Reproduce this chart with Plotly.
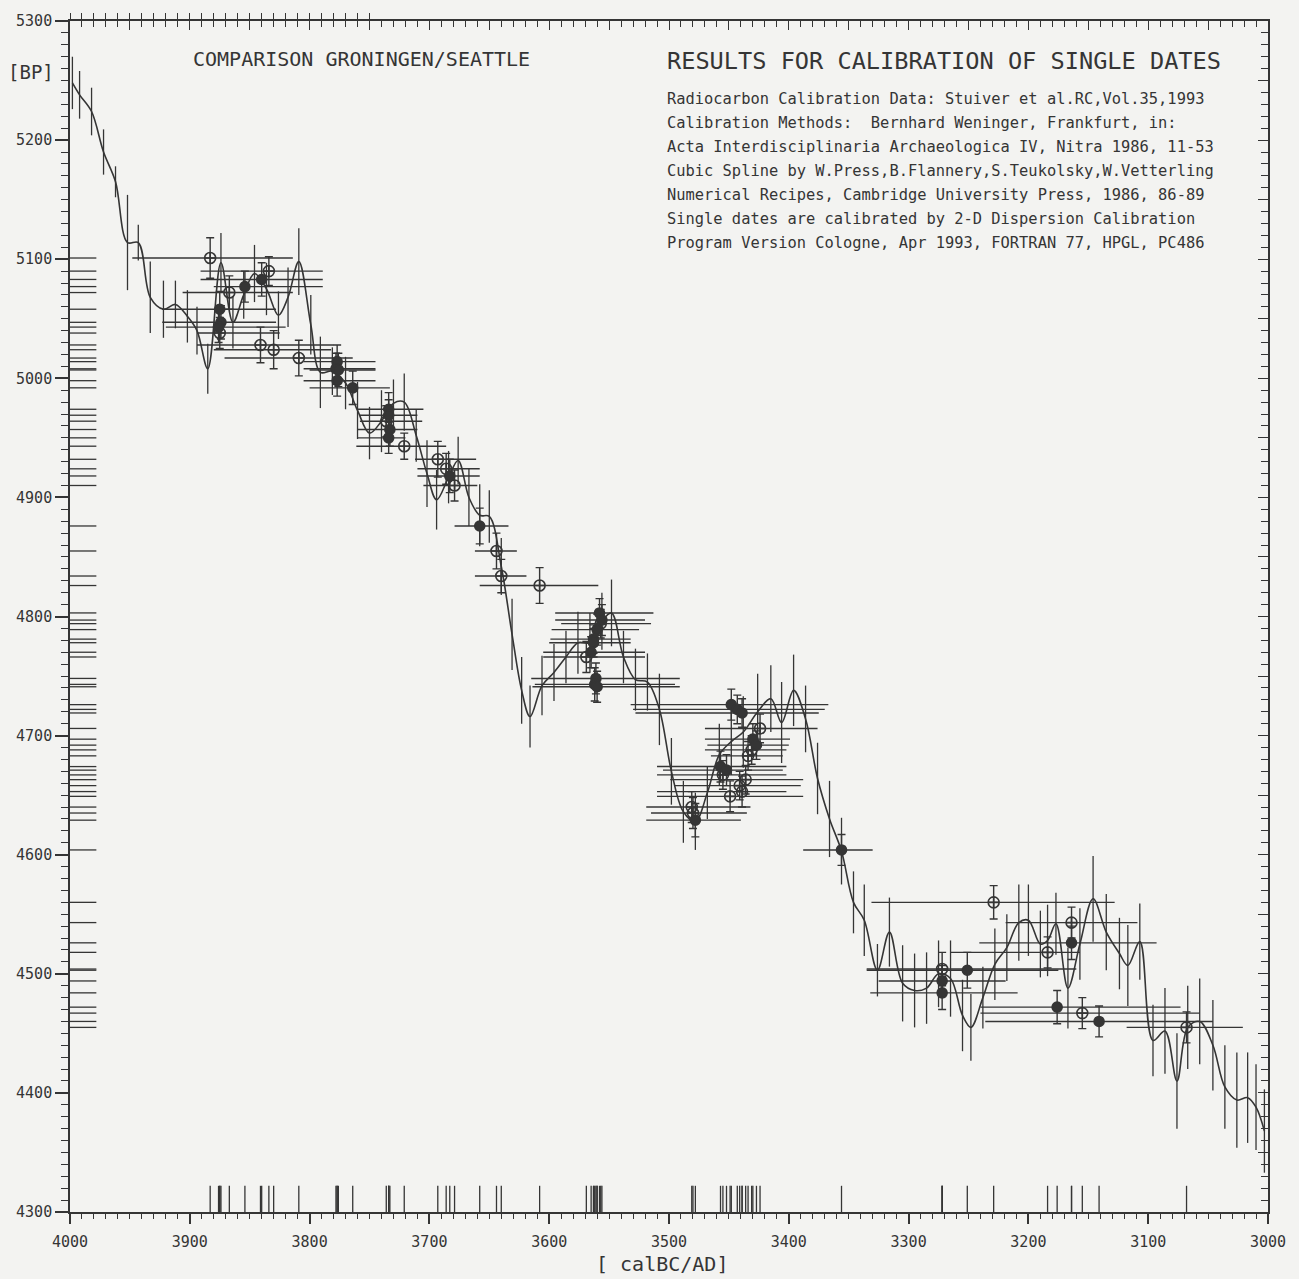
import plotly.graph_objects as go

# ---------------- calibration curve (cal BC, BP, +/- error) ----------------
curve_year = [3998, 3992, 3982, 3972, 3962, 3952, 3943, 3933, 3922, 3912,
              3902, 3894, 3885, 3874, 3864, 3855, 3846, 3836, 3826, 3818,
              3809, 3799, 3791, 3781, 3770, 3760, 3750, 3740, 3730, 3721,
              3711, 3702, 3694, 3684, 3676, 3667, 3658, 3650, 3640, 3631,
              3623, 3616, 3606, 3596, 3586, 3576, 3566, 3556, 3548, 3538,
              3528, 3518, 3508, 3498, 3488, 3478, 3468, 3458, 3448, 3438,
              3426, 3415, 3406, 3396, 3386, 3376, 3366, 3356, 3346, 3337,
              3326, 3316, 3305, 3295, 3285, 3275, 3265, 3255, 3248, 3238,
              3228, 3218, 3208, 3200, 3190, 3184, 3177, 3167, 3157, 3146,
              3135, 3124, 3117, 3107, 3096, 3086, 3076, 3067, 3057, 3046,
              3036, 3026, 3017, 3010, 3003]
curve_bp = [5248, 5238, 5224, 5190, 5165, 5114, 5114, 5068, 5058, 5062,
            5052, 5040, 5008, 5097, 5047, 5070, 5088, 5075, 5053, 5068,
            5098, 5045, 5005, 5006, 4996, 4973, 4954, 4964, 4979, 4980,
            4952, 4920, 4898, 4917, 4931, 4900, 4885, 4884, 4842, 4785,
            4738, 4716, 4742, 4753, 4766, 4778, 4778, 4796, 4803, 4766,
            4747, 4745, 4722, 4670, 4636, 4628, 4652, 4684, 4695, 4703,
            4720, 4731, 4711, 4738, 4714, 4664, 4630, 4603, 4560, 4545,
            4503, 4535, 4492, 4486, 4488, 4500, 4496, 4465, 4455, 4480,
            4508, 4522, 4543, 4545, 4525, 4528, 4542, 4488, 4525, 4563,
            4535, 4517, 4507, 4527, 4444, 4452, 4410, 4455, 4460, 4440,
            4405, 4394, 4396, 4388, 4368]
curve_err = [22, 20, 20, 19, 13, 40, 15, 30, 24, 20,
             22, 20, 21, 25, 22, 20, 24, 22, 20, 25,
             28, 25, 30, 20, 22, 24, 22, 26, 20, 24,
             22, 28, 25, 22, 20, 24, 26, 22, 24, 30,
             28, 26, 25, 24, 22, 26, 25, 24, 28, 22,
             26, 24, 30, 28, 26, 24, 22, 26, 28, 30,
             32, 28, 34, 30, 28, 30, 32, 28, 26, 30,
             22, 29, 32, 31, 30, 28, 32, 30, 28, 26,
             30, 28, 32, 30, 28, 30, 26, 34, 30, 36,
             32, 30, 34, 32, 30, 36, 40, 35, 36, 38,
             35, 40, 38, 36, 35]

# ---------------- single dates ----------------
date_cal = [3883, 3834, 3840, 3854, 3867, 3875, 3874, 3876, 3875, 3841,
            3830, 3809, 3777, 3778, 3776, 3777, 3764, 3734, 3734, 3736,
            3733, 3734, 3721, 3693, 3686, 3683, 3679, 3658, 3644, 3640,
            3608, 3558, 3556, 3557, 3560, 3563, 3563, 3565, 3569, 3561,
            3562, 3560, 3448, 3443, 3439, 3424, 3430, 3427, 3431, 3434,
            3457, 3452, 3455, 3436, 3441, 3439, 3449, 3481, 3480, 3478,
            3356, 3229, 3164, 3164, 3184, 3272, 3272, 3272, 3251, 3176,
            3155, 3141, 3068]
date_bp = [5101, 5090, 5083, 5077, 5072, 5058, 5047, 5043, 5038, 5028,
           5024, 5017, 5014, 5008, 5007, 4998, 4992, 4974, 4969, 4964,
           4957, 4950, 4943, 4932, 4924, 4918, 4910, 4876, 4855, 4834,
           4826, 4803, 4797, 4794, 4789, 4781, 4778, 4770, 4766, 4748,
           4743, 4741, 4726, 4722, 4719, 4706, 4697, 4692, 4688, 4683,
           4674, 4671, 4667, 4663, 4658, 4653, 4649, 4640, 4635, 4629,
           4604, 4560, 4543, 4526, 4518, 4504, 4494, 4484, 4503, 4472,
           4467, 4460, 4455]
date_sd = [17, 12, 14, 13, 14, 15, 14, 13, 13, 15,
           16, 15, 14, 13, 14, 13, 14, 14, 13, 13,
           14, 13, 11, 15, 13, 14, 13, 15, 15, 14,
           15, 12, 13, 12, 13, 12, 12, 13, 13, 13,
           14, 13, 13, 12, 12, 12, 13, 12, 12, 12,
           13, 13, 12, 12, 12, 13, 13, 13, 13, 14,
           13, 14, 13, 14, 13, 14, 13, 14, 15, 14,
           13, 13, 13]
date_cal_old = [3948, 3891, 3891, 3880, 3906, 3923, 3923, 3920, 3894, 3894,
                3880, 3871, 3805, 3805, 3800, 3805, 3800, 3760, 3758, 3758,
                3760, 3760, 3761, 3712, 3710, 3710, 3705, 3679, 3662, 3662,
                3658, 3595, 3595, 3590, 3598, 3599, 3600, 3605, 3605, 3615,
                3612, 3614, 3532, 3530, 3528, 3470, 3470, 3468, 3470, 3465,
                3510, 3505, 3510, 3499, 3495, 3510, 3510, 3519, 3515, 3519,
                3388, 3331, 3219, 3241, 3265, 3335, 3325, 3332, 3335, 3240,
                3240, 3236, 3118]
date_cal_young = [3814, 3789, 3789, 3789, 3814, 3828, 3828, 3820, 3825, 3780,
                  3782, 3764, 3745, 3745, 3745, 3745, 3733, 3705, 3710, 3706,
                  3710, 3720, 3686, 3661, 3658, 3658, 3660, 3634, 3627, 3619,
                  3559, 3513, 3520, 3515, 3525, 3532, 3532, 3520, 3520, 3491,
                  3495, 3491, 3367, 3370, 3375, 3376, 3399, 3400, 3402, 3405,
                  3402, 3405, 3402, 3388, 3390, 3402, 3388, 3432, 3435, 3440,
                  3330, 3128, 3109, 3093, 3157, 3160, 3219, 3209, 3175, 3073,
                  3057, 3046, 3021]
date_kind = ["o", "o", "f", "f", "o", "f", "f", "f", "o", "o",
             "o", "o", "f", "f", "f", "f", "f", "f", "f", "o",
             "f", "f", "o", "o", "o", "f", "o", "f", "o", "o",
             "o", "f", "f", "o", "f", "f", "f", "f", "o", "f",
             "f", "f", "f", "f", "f", "o", "f", "f", "o", "o",
             "f", "f", "o", "o", "o", "o", "o", "o", "o", "f",
             "f", "o", "o", "f", "o", "o", "f", "f", "f", "f",
             "o", "f", "o"]

assert len(curve_year) == len(curve_bp) == len(curve_err)
n = len(date_cal)
assert all(len(a) == n for a in (date_bp, date_sd, date_cal_old, date_cal_young, date_kind))

# ---------------- texts ----------------
title_left = "COMPARISON GRONINGEN/SEATTLE"
title_right = "RESULTS FOR CALIBRATION OF SINGLE DATES"
info_lines = [
    "Radiocarbon Calibration Data: Stuiver et al.RC,Vol.35,1993",
    "Calibration Methods:  Bernhard Weninger, Frankfurt, in:",
    "Acta Interdisciplinaria Archaeologica IV, Nitra 1986, 11-53",
    "Cubic Spline by W.Press,B.Flannery,S.Teukolsky,W.Vetterling",
    "Numerical Recipes, Cambridge University Press, 1986, 86-89",
    "Single dates are calibrated by 2-D Dispersion Calibration",
    "Program Version Cologne, Apr 1993, FORTRAN 77, HPGL, PC486",
]
y_label = "[BP]"
x_label = "[ calBC/AD]"

INK = "#353535"
BG = "#f3f3f1"
MONO = "DejaVu Sans Mono, Liberation Mono, monospace"
X_RANGE = [4000, 3000]
Y_RANGE = [4300, 5300]
RUG = 22

W, H = 1299, 1279
ML, MR, MT, MB = 70, 31, 16, 67
PW, PH = W - ML - MR, H - MT - MB


def px2fx(px):
    return (px - ML) / PW


def py2fy(py):
    return (H - MB - py) / PH


fig = go.Figure()

# calibration curve
fig.add_trace(go.Scatter(
    x=curve_year, y=curve_bp, mode="lines",
    line=dict(color=INK, width=1.6, shape="spline", smoothing=1.0),
    error_y=dict(type="data", array=curve_err, visible=True, color=INK,
                 thickness=1.3, width=0),
    hoverinfo="skip", showlegend=False))

# single dates
for kind, symbol, size in (("o", "circle-cross-open", 11), ("f", "circle", 10)):
    idx = [i for i in range(n) if date_kind[i] == kind]
    cx = [date_cal[i] for i in idx]
    fig.add_trace(go.Scatter(
        x=cx, y=[date_bp[i] for i in idx], mode="markers",
        marker=dict(symbol=symbol, size=size, color=INK,
                    line=dict(color=INK, width=1.6)),
        error_x=dict(type="data", symmetric=False,
                     array=[date_cal_old[i] - date_cal[i] for i in idx],
                     arrayminus=[date_cal[i] - date_cal_young[i] for i in idx],
                     color=INK, thickness=1.4, width=0),
        error_y=dict(type="data", array=[date_sd[i] for i in idx],
                     color=INK, thickness=1.4, width=4),
        hoverinfo="skip", showlegend=False))

# rug of calendar dates along the bottom
fig.add_trace(go.Scatter(
    x=date_cal, y=[Y_RANGE[0]] * n, mode="markers",
    marker=dict(size=1, color="rgba(0,0,0,0)"),
    error_y=dict(type="data", symmetric=False, array=[RUG] * n,
                 arrayminus=[0] * n, color=INK, thickness=1.3, width=0),
    hoverinfo="skip", showlegend=False))

# rug of BP dates along the left
fig.add_trace(go.Scatter(
    x=[X_RANGE[0]] * n, y=date_bp, mode="markers",
    marker=dict(size=1, color="rgba(0,0,0,0)"),
    error_x=dict(type="data", symmetric=False, array=[0] * n,
                 arrayminus=[RUG] * n, color=INK, thickness=1.3, width=0),
    hoverinfo="skip", showlegend=False))

# dummy traces so the overlay (tick-only) axes are drawn
fig.add_trace(go.Scatter(x=[3500], y=[4800], xaxis="x2", yaxis="y2", mode="markers",
                         marker=dict(size=1, color="rgba(0,0,0,0)"),
                         hoverinfo="skip", showlegend=False))
fig.add_trace(go.Scatter(x=[3500], y=[4800], xaxis="x3", yaxis="y", mode="markers",
                         marker=dict(size=1, color="rgba(0,0,0,0)"),
                         hoverinfo="skip", showlegend=False))

annotations = [
    dict(text=title_left, x=px2fx(191), y=py2fy(54), xanchor="left", yanchor="middle",
         font=dict(family=MONO, size=20, color=INK)),
    dict(text=title_right, x=px2fx(665), y=py2fy(56), xanchor="left", yanchor="middle",
         font=dict(family=MONO, size=23.6, color=INK)),
    dict(text=y_label, x=px2fx(6), y=py2fy(67), xanchor="left", yanchor="middle",
         font=dict(family=MONO, size=19, color=INK)),
    dict(text=x_label, x=px2fx(662), y=py2fy(1264), xanchor="center", yanchor="middle",
         font=dict(family=MONO, size=20, color=INK)),
]
for i, line in enumerate(info_lines):
    annotations.append(dict(text=line, x=px2fx(665), y=py2fy(94 + i * 24.1),
                            xanchor="left", yanchor="middle",
                            font=dict(family=MONO, size=15.4, color=INK)))
for a in annotations:
    a.update(xref="paper", yref="paper", showarrow=False)

fig.update_layout(
    width=W, height=H,
    margin=dict(l=ML, r=MR, t=MT, b=MB),
    paper_bgcolor=BG, plot_bgcolor=BG,
    showlegend=False,
    annotations=annotations,
    xaxis=dict(range=X_RANGE, autorange=False, dtick=100, tick0=0,
               ticks="outside", ticklen=10, tickwidth=1.5, tickcolor=INK,
               showline=True, linecolor=INK, linewidth=1.6, mirror=True,
               showgrid=False, zeroline=False, ticklabelstandoff=5,
               tickfont=dict(family=MONO, size=15, color=INK),
               minor=dict(dtick=10, ticks="outside", ticklen=5, tickwidth=1.2,
                          tickcolor=INK, showgrid=False)),
    xaxis2=dict(range=X_RANGE, autorange=False, overlaying="x", side="top", anchor="y",
                dtick=50, tick0=0, ticks="inside", ticklen=9, tickwidth=1.3,
                tickcolor=INK, showticklabels=False, showgrid=False, zeroline=False,
                showline=False,
                minor=dict(dtick=10, ticks="inside", ticklen=6, tickwidth=1.2,
                           tickcolor=INK, showgrid=False)),
    xaxis3=dict(range=X_RANGE, autorange=False, overlaying="x", side="top", anchor="y",
                tickmode="array", tickvals=list(range(3750, 4001, 10)),
                ticks="outside", ticklen=7, tickwidth=1.3, tickcolor=INK,
                showticklabels=False, showgrid=False, zeroline=False, showline=False),
    yaxis=dict(range=Y_RANGE, autorange=False, dtick=100, tick0=0,
               ticks="outside", ticklen=13, tickwidth=1.5, tickcolor=INK,
               showline=True, linecolor=INK, linewidth=1.6, mirror=True,
               showgrid=False, zeroline=False,
               tickfont=dict(family=MONO, size=15, color=INK),
               minor=dict(dtick=10, ticks="outside", ticklen=7, tickwidth=1.2,
                          tickcolor=INK, showgrid=False)),
    yaxis2=dict(range=Y_RANGE, autorange=False, overlaying="y", side="right", anchor="x",
                dtick=50, tick0=0, ticks="inside", ticklen=10, tickwidth=1.3,
                tickcolor=INK, showticklabels=False, showgrid=False, zeroline=False,
                showline=False,
                minor=dict(dtick=10, ticks="inside", ticklen=7, tickwidth=1.2,
                           tickcolor=INK, showgrid=False)),
)

fig.write_html("out.html")
